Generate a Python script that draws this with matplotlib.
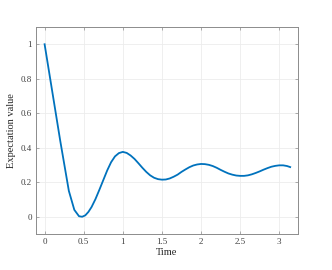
import matplotlib
matplotlib.use("Agg")
import matplotlib.pyplot as plt

time = [0.00, 0.10, 0.20, 0.31, 0.38, 0.44, 0.48, 0.52, 0.56, 0.60, 0.65, 0.70, 0.75, 0.80,
        0.85, 0.90, 0.95, 1.00, 1.05, 1.10, 1.15, 1.20, 1.25, 1.30, 1.35, 1.40, 1.45, 1.50,
        1.55, 1.60, 1.65, 1.70, 1.75, 1.80, 1.85, 1.90, 1.95, 2.00, 2.05, 2.10, 2.15, 2.20,
        2.25, 2.30, 2.35, 2.40, 2.45, 2.50, 2.55, 2.60, 2.65, 2.70, 2.75, 2.80, 2.85, 2.90,
        2.95, 3.00, 3.05, 3.10, 3.14]
expect = [1.000, 0.720, 0.440, 0.150, 0.040, 0.003, 0.000, 0.008, 0.028, 0.056, 0.102, 0.156,
          0.212, 0.268, 0.316, 0.350, 0.369, 0.376, 0.370, 0.355, 0.335, 0.310, 0.284, 0.260,
          0.240, 0.226, 0.218, 0.215, 0.216, 0.222, 0.232, 0.244, 0.260, 0.274, 0.287, 0.297,
          0.303, 0.306, 0.305, 0.301, 0.294, 0.284, 0.272, 0.261, 0.251, 0.244, 0.239, 0.237,
          0.237, 0.240, 0.246, 0.254, 0.263, 0.273, 0.282, 0.290, 0.295, 0.298, 0.298, 0.294,
          0.288]
xticks = [0, 0.5, 1, 1.5, 2, 2.5, 3]
xticklabels = ["0", "0.5", "1", "1.5", "2", "2.5", "3"]
yticks = [0, 0.2, 0.4, 0.6, 0.8, 1]
yticklabels = ["0", "0.2", "0.4", "0.6", "0.8", "1"]

plt.rcParams['font.family'] = ['Liberation Serif', 'DejaVu Serif']

fig = plt.figure(figsize=(3.32, 2.70), dpi=100)
ax = fig.add_axes([36/332, 36/270, 262/332, 207/270])
ax.plot(time, expect, color='#0072BD', lw=1.3)
ax.set_xlim(-0.11, 3.24)
ax.set_ylim(-0.1, 1.1)
ax.set_xticks(xticks)
ax.set_xticklabels(xticklabels)
ax.set_yticks(yticks)
ax.set_yticklabels(yticklabels)
ax.grid(True, color='#ececec', lw=0.6)
ax.set_axisbelow(True)
for s in ax.spines.values():
    s.set_color('#8c8c8c')
    s.set_linewidth(0.7)
ax.tick_params(direction='in', length=2.5, width=0.5, color='#8c8c8c', labelsize=6.5,
               labelcolor='#404040', top=True, right=True, pad=3)
ax.set_xlabel('Time', fontsize=7.5, color='#262626', labelpad=1)
ax.set_ylabel('Expectation value', fontsize=7.5, color='#262626', labelpad=3)
fig.savefig('out.png', dpi=100)
